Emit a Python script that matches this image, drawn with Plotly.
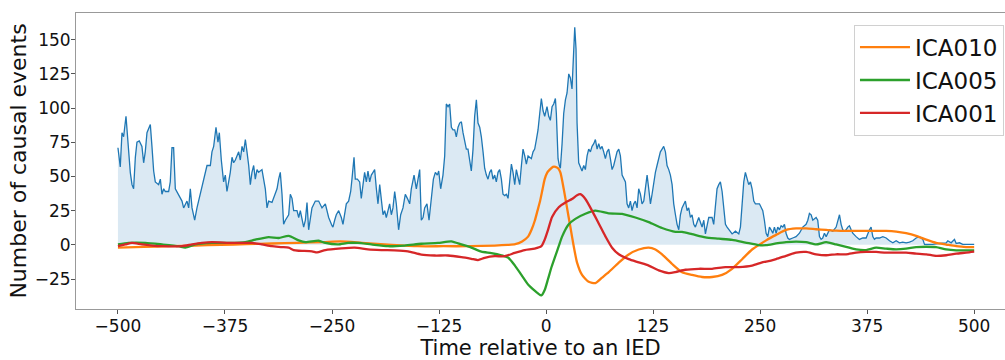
import plotly.graph_objects as go

# Blue: number of causal events
blue_t = [-500.0, -497.3, -495.3, -493.4, -490.6, -488.3, -485.6, -483.6, -481.7, -479.7, -477.8, -475.1, -472.0, -470.0, -468.1, -466.1, -462.2, -460.3, -458.3, -456.4, -452.5, -450.5, -448.6, -446.6, -444.7, -440.8, -438.9, -436.9, -435.0, -433.0, -429.1, -425.2, -423.3, -419.4, -417.4, -415.5, -413.5, -410.4, -407.7, -403.8, -399.9, -396.0, -392.1, -390.2, -388.2, -385.5, -383.2, -381.6, -379.3, -376.6, -374.6, -372.7, -370.7, -368.8, -366.8, -364.9, -362.9, -359.0, -357.1, -355.1, -353.2, -351.2, -349.3, -347.3, -345.4, -343.5, -341.5, -339.6, -337.6, -335.7, -331.8, -329.8, -327.9, -325.9, -324.0, -320.1, -316.2, -314.2, -312.3, -310.4, -308.4, -306.5, -304.5, -300.6, -298.7, -296.7, -294.8, -290.9, -288.9, -287.0, -283.1, -281.1, -279.2, -277.3, -273.4, -269.5, -265.6, -261.7, -257.8, -253.9, -250.0,
          -248.9, -246.9, -245.0, -242.2, -239.1, -237.2, -235.2, -233.3, -230.6, -228.2, -226.7, -224.3, -222.8, -220.4, -217.7, -215.8, -213.8, -211.9, -209.9, -208.0, -206.0, -204.1, -202.1, -200.2, -198.2, -196.3, -194.3, -192.4, -190.4, -188.5, -186.6, -184.6, -182.7, -180.7, -178.8, -176.8, -174.9, -172.2, -169.8, -167.1, -164.4, -162.0, -159.3, -157.4, -154.2, -151.5, -149.6, -147.6, -145.7, -143.7, -141.8, -139.1, -136.7, -134.0, -131.6, -129.3, -127.0, -125.4, -123.1, -120.4, -118.4, -116.5, -114.5, -112.6, -110.6, -108.7, -106.7, -104.8, -102.8, -100.9, -98.9, -97.0, -95.1, -93.1, -91.2, -89.2, -87.3, -85.3, -83.4, -81.4, -79.5, -77.5, -75.6, -73.6, -71.7, -69.7, -67.8, -65.8, -63.9, -62.0, -60.0, -58.1, -56.1, -54.2, -52.2, -50.3, -48.3, -46.4, -44.4, -42.5, -40.5, -38.6, -36.6, -34.7, -32.7, -30.8, -28.8, -26.9, -24.9, -23.0, -21.0, -17.2, -15.2, -13.3, -11.3, -9.4, -7.4, -5.5, -3.5, -1.6,
          1.1, 3.1, 5.0, 7.0, 8.9, 10.9, 12.0, 12.8, 14.0, 15.5, 16.7, 18.7, 20.6, 22.6, 24.5, 26.5, 28.4, 30.3, 32.3, 33.5, 35.0, 36.2, 38.1, 40.1, 42.0, 44.0, 45.9, 47.9, 49.8, 51.8, 53.7, 55.7, 57.6, 59.6, 61.5, 63.4, 65.4, 67.3, 69.3, 71.2, 73.2, 75.1, 77.1, 79.0, 81.0, 82.9, 84.9, 86.8, 88.8, 90.7, 92.7, 94.6, 96.5, 98.5, 100.4, 102.4, 104.3, 106.3, 108.2, 110.2, 112.1, 114.1, 116.0, 118.0, 119.9, 121.9, 123.8, 125.8, 127.7, 129.6, 131.6, 133.5, 135.5, 137.4, 139.4, 141.3, 143.3, 145.2, 147.2, 149.1, 151.1, 153.0, 155.0, 156.9, 158.8, 160.8, 162.7, 164.7, 166.6, 168.6, 170.5, 172.5, 174.4, 178.3, 182.2, 184.2, 186.1, 190.0, 193.9, 195.8, 197.8, 199.7, 201.7, 203.6, 205.6, 207.5, 209.5, 211.4, 213.4, 217.3, 221.2, 225.1, 227.0, 229.0, 230.9, 232.8, 234.8, 236.7, 238.7, 240.6, 242.6, 244.5,
          249.2, 253.1, 255.0, 257.0, 258.9, 260.9, 262.8, 264.8, 266.7, 268.7, 270.6, 272.6, 274.5, 276.5, 278.4, 280.3, 282.3, 284.2, 288.1, 292.0, 295.9, 299.8, 303.7, 305.7, 307.6, 309.6, 311.5, 313.4, 315.4, 317.3, 319.3, 321.2, 323.1, 325.1, 327.1, 331.0, 334.9, 338.8, 340.7, 342.7, 344.6, 346.5, 348.5, 350.4, 352.4, 354.3, 356.3, 358.2, 362.1, 366.0, 369.9, 373.8, 377.7, 379.6, 381.6, 383.5, 385.5, 389.4, 393.3, 397.2, 401.1, 405.0, 408.9, 412.7, 416.6, 420.5, 424.4, 428.3, 432.2, 436.1, 438.1, 440.0, 442.0, 445.8, 451.7, 459.5, 467.3, 469.2, 473.1, 477.0, 479.0, 482.8, 486.7, 490.6, 494.5, 500.0]
blue_n = [71, 57, 82, 79, 94, 72, 53, 44, 41, 64, 75, 76, 72, 60, 68, 82, 88, 72, 54, 46, 44, 48, 37, 41, 39, 39, 46, 71, 71, 41, 37, 32, 27, 32, 27, 41, 27, 18, 27, 37, 48, 58, 58, 68, 72, 86, 75, 82, 62, 46, 51, 39, 46, 53, 64, 60, 62, 68, 62, 72, 68, 77, 68, 58, 44, 53, 58, 48, 55, 53, 55, 48, 41, 27, 32, 31, 37, 41, 48, 53, 37, 15, 18, 22, 37, 34, 25, 25, 20, 25, 13, 18, 31, 11, 27, 32, 32, 27, 30, 20, 14,
          13, 18, 22, 25, 20, 15, 22, 30, 32, 39, 48, 64, 48, 48, 46, 34, 44, 53, 46, 54, 46, 51, 53, 55, 41, 30, 44, 32, 22, 25, 20, 25, 30, 22, 27, 39, 30, 11, 22, 27, 37, 34, 30, 41, 51, 41, 48, 55, 18, 20, 27, 30, 18, 34, 48, 53, 51, 54, 41, 51, 65, 103, 101, 103, 86, 84, 84, 79, 86, 89, 90, 82, 77, 70, 70, 63, 54, 70, 94, 106, 89, 86, 79, 68, 56, 51, 48, 53, 55, 48, 51, 46, 53, 55, 48, 37, 36, 37, 34, 46, 59, 53, 44, 55, 48, 44, 58, 70, 65, 59, 65, 63, 68, 70, 77, 84, 96, 107, 98, 94,
          101, 94, 91, 101, 103, 107, 96, 82, 63, 58, 56, 74, 96, 106, 111, 125, 122, 114, 141, 159, 143, 89, 60, 56, 54, 58, 55, 65, 70, 68, 72, 74, 77, 70, 74, 70, 72, 68, 63, 68, 70, 63, 55, 58, 63, 68, 70, 65, 51, 48, 46, 30, 27, 32, 25, 30, 32, 27, 41, 37, 30, 32, 41, 51, 41, 30, 37, 46, 53, 58, 63, 68, 70, 72, 68, 58, 55, 51, 44, 30, 22, 15, 11, 22, 27, 30, 32, 25, 27, 20, 22, 15, 13, 20, 13, 18, 8, 20, 20, 15, 32, 41, 44, 46, 39, 27, 15, 13, 11, 8, 10, 8, 13, 27, 46, 53, 48, 44, 46, 41, 32, 30,
          30, 25, 18, 8.5, 6, 13, 11, 8.5, 13, 8.5, 13, 11, 14, 13, 15, 8.5, 5, 4, 5, 6, 8.5, 13, 15, 18, 23, 22, 18, 19, 20, 18, 6, 4, 5, 8.5, 6, 11, 10, 13, 18, 22, 15, 11, 10, 11, 13, 14, 11, 8.5, 6, 4, 5, 5, 11, 13, 6, 4, 5, 5, 6, 5, 3, 1.5, 3, 1.5, 2, 1.5, 2, 3, 5, 6, 5, 4, 0.3, 0.3, 0.3, 1, 1.5, 3, 1.5, 4, 1, 1.5, 0.3, 0.3, 0.3, 0.3]

# ICA010 (orange)
ica010_t = [-500, -470, -440, -410, -380, -350, -320, -290, -260, -240, -215, -180, -150, -120, -90, -60, -45, -36, -28, -21, -17, -13, -10, -7, -4, -1.6, 1.5, 4.3, 8, 10.9, 14, 16.7, 20.6, 24.5, 28.4, 32.3, 36.2, 42, 49.8, 57.6, 65.4, 73.2, 84.9, 96.5, 108.2, 119.9, 127.7, 135.5, 147.2, 158.8, 170.5, 182.2, 193.9, 205.6, 217.3, 229, 240.6, 252.3, 258.2, 268.7, 280.3, 292, 303.7, 315.4, 327.1, 338.8, 350.4, 373.8, 397.2, 408.9, 420.5, 432.2, 444, 455.6, 467.3, 479, 490.6, 500]
ica010_v = [-2, -1.5, -1, -0.5, 0, 0.5, 1, 1.5, 2, 2.5, 1.5, 0, -1, -1, -1, -0.5, 0, 0.5, 2.5, 6, 11, 18, 25, 32, 41, 48, 53, 55, 57, 57, 56, 53, 41, 27, 13, -1, -13, -22, -27, -28, -24, -20, -13, -7, -3.4, -2, -3.4, -7, -14, -20, -22, -23.5, -23.5, -22, -17.5, -10.5, -3.4, 1.4, 3.8, 7.3, 10.9, 12, 12, 11.4, 10.9, 10.4, 10.2, 10.2, 10.2, 9.7, 8.5, 6.6, 3.8, 1.4, 0.2, -1, -1.7, -1.7]

# ICA005 (green)
ica005_t = [-500, -487.5, -468, -448.6, -429, -421.3, -409.6, -390.2, -370.7, -351.2, -339.6, -324, -312.3, -300.6, -289, -281.1, -265.6, -257.8, -243, -231.3, -219.7, -204.1, -184.6, -165.1, -145.7, -126.2, -110.6, -98.9, -87.3, -75.6, -63.9, -52.2, -44.4, -36.6, -28.8, -21, -13.3, -9.4, -5.5, -1.6, 2.3, 6.5, 10.9, 14.8, 18.7, 26.5, 34.2, 45.9, 57.6, 73.2, 88.8, 104.3, 119.9, 135.5, 151.1, 158.8, 170.5, 186.1, 201.7, 217.3, 232.8, 248.4, 257, 268.7, 280.3, 292, 303.7, 315.4, 327.1, 338.8, 350.4, 362.1, 373.8, 385.5, 397.2, 408.9, 420.5, 432.2, 444, 455.6, 467.3, 479, 490.6, 500]
ica005_v = [0.3, 1.4, 1.4, 0.3, -1, -2, 0.3, 1.4, 1.4, 2, 3.8, 5.7, 5, 6.6, 3.3, 2, 3, 1.4, 0.3, 1.4, 1.4, 0.3, -1, -0.5, 0.8, 1.4, 2.6, 0.3, -2, -5, -6, -7.6, -9.3, -15, -22, -29, -33.5, -35.5, -37, -33, -25, -16, -8, -1, 6, 15, 19, 22.7, 25, 23, 22.7, 20, 16.6, 12.3, 9.5, 9.5, 7.8, 5.4, 4.5, 3.6, 1.7, -0.2, -0.2, 1, 2, 2.4, 2, 0.3, 2, 0.3, -1.4, -3.3, -3.8, -2.1, -2.8, -3.3, -2.8, -1.7, -1.4, -1.7, -3.3, -4, -4, -4]

# ICA001 (red)
ica001_t = [-500, -491.4, -483.6, -472, -460.3, -448.6, -425.2, -413.5, -401.9, -390.2, -366.8, -343.5, -331.8, -320.1, -308.4, -300.6, -294.8, -289, -273.4, -267.5, -257.8, -239.1, -223.5, -208, -192.4, -176.8, -161.3, -145.7, -130.1, -114.5, -98.9, -87.3, -79.5, -71.7, -60, -48.3, -36.6, -24.9, -13.3, -5.5, -1.6, 2.3, 7, 14.8, 22.6, 30.3, 36.2, 40.1, 45.9, 53.7, 61.5, 69.3, 77.1, 84.9, 96.5, 108.2, 119.9, 131.6, 143.3, 151.1, 162.7, 178.3, 193.9, 209.5, 225.1, 240.6, 252.3, 257, 268.7, 280.3, 292, 303.7, 315.4, 327.1, 338.8, 350.4, 362.1, 373.8, 385.5, 397.2, 420.5, 432.2, 444, 455.6, 467.3, 479, 490.6, 500]
ica001_v = [-1, 0.3, 1.4, 0.3, -0.5, -1, -1, 0.3, 1.4, 2, 1.4, 1.4, 0.3, -1, -1.6, -2.1, -3.8, -4.3, -4.7, -5.5, -3.8, -2.6, -2.1, -3.3, -3.8, -4, -4.7, -7.1, -7.8, -7.8, -9, -10.2, -11.1, -9.5, -8.3, -8.3, -5.9, -3.8, -2.8, -1, 3.8, 10.9, 20.4, 27.5, 31, 33.5, 36.3, 37, 33.5, 25, 15.6, 6.2, -2.1, -6.9, -10.4, -12.8, -15.2, -18.7, -20.6, -19.9, -18.2, -17.5, -17.5, -16.3, -16.3, -15.2, -12.8, -12.3, -10.4, -8, -5.7, -5.2, -6.9, -7.6, -6.9, -6.9, -5.7, -5.2, -5.2, -5.7, -5.7, -6.4, -6.9, -8.1, -7.6, -6.4, -5.7, -5]

x_ticks = [-500, -375, -250, -125, 0, 125, 250, 375, 500]
y_ticks = [-25, 0, 25, 50, 75, 100, 125, 150]

FONT = "DejaVu Sans"
fig = go.Figure()
fig.add_trace(go.Scatter(x=blue_t, y=blue_n, mode="lines", fill="tozeroy",
                         fillcolor="rgba(31,119,180,0.16)",
                         line=dict(color="#1f77b4", width=1.3), showlegend=False))
for name, t, v, c in [("ICA010", ica010_t, ica010_v, "#ff7f0e"),
                      ("ICA005", ica005_t, ica005_v, "#2ca02c"),
                      ("ICA001", ica001_t, ica001_v, "#d62728")]:
    fig.add_trace(go.Scatter(x=t, y=v, mode="lines", name=name,
                             line=dict(color=c, width=2.3, shape="spline", smoothing=0.6)))

fig.update_layout(
    width=1005, height=360,
    margin=dict(l=76, r=0, t=13, b=42),
    plot_bgcolor="white", paper_bgcolor="white",
    font=dict(family=FONT, color="#111", size=17),
    legend=dict(x=0.9989, y=0.9607, xanchor="right", yanchor="top",
                bordercolor="#d0d0d0", borderwidth=1, bgcolor="rgba(255,255,255,0.8)",
                font=dict(size=23, family=FONT), tracegroupgap=0, itemwidth=50),
)
fig.update_xaxes(range=[-549, 536], tickvals=x_ticks, ticks="outside", ticklen=4,
                 tickcolor="#555", showline=True, linecolor="#999", linewidth=1,
                 mirror=True, showgrid=False, zeroline=False, ticklabelstandoff=-2,
                 title=dict(text="Time relative to an IED", font=dict(size=21), standoff=9),
                 tickfont=dict(size=17))
fig.update_yaxes(range=[-46.9, 169.5], tickvals=y_ticks, ticks="outside", ticklen=4,
                 tickcolor="#555", showline=True, linecolor="#999", linewidth=1,
                 showgrid=False, zeroline=False, ticklabelstandoff=-3,
                 title=dict(text="Number of causal events", font=dict(size=22), standoff=2),
                 tickfont=dict(size=17))
fig.write_html("out.html")
